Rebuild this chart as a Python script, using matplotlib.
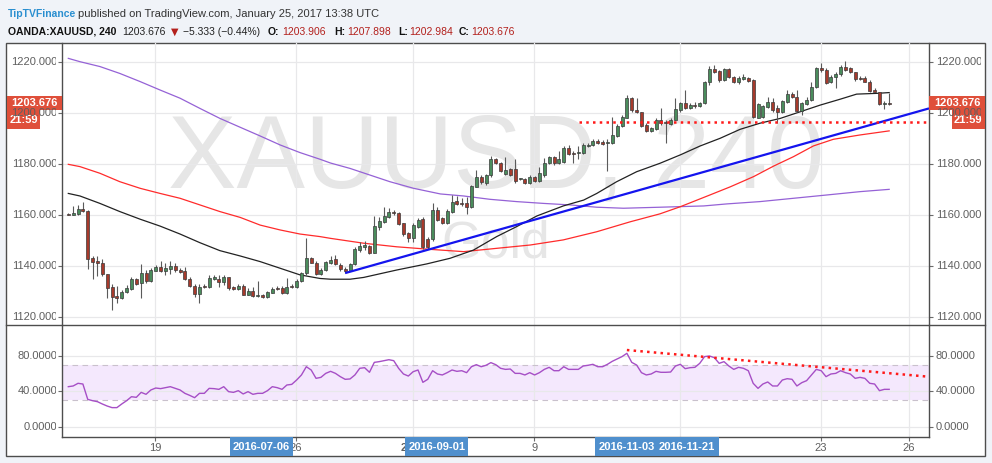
import numpy as np
import matplotlib
matplotlib.use('Agg')
import matplotlib.pyplot as plt
from matplotlib.patches import Rectangle
from matplotlib.lines import Line2D
from matplotlib.transforms import blended_transform_factory, Bbox, TransformedBbox

# ---------------- data (4h bars, XAUUSD) ----------------
opens = [1160.3, 1160.1, 1160.4, 1162.3, 1161.6, 1143.0, 1142.0, 1141.0, 1136.8, 1131.6,
         1128.2, 1127.6, 1129.7, 1131.1, 1134.8, 1133.2, 1137.4, 1134.2, 1138.2, 1139.5,
         1138.2, 1138.7, 1140.0, 1138.4, 1138.1, 1134.7, 1132.1, 1129.0, 1132.2, 1131.9,
         1134.8, 1135.0, 1133.8, 1135.5, 1131.8, 1130.8, 1132.1, 1128.8, 1130.3, 1128.2,
         1128.5, 1128.0, 1129.5, 1131.4, 1131.4, 1129.5, 1132.2, 1131.6, 1134.2, 1137.1,
         1143.1, 1141.3, 1136.8, 1138.4, 1141.3, 1142.6, 1140.5, 1138.9, 1138.2, 1140.8,
         1146.2, 1147.3, 1147.8, 1145.2, 1155.4, 1157.3, 1159.3, 1161.3, 1160.9, 1156.7,
         1152.8, 1150.8, 1155.4, 1158.5, 1150.4, 1150.5, 1161.9, 1158.6, 1157.0, 1161.3,
         1165.6, 1164.8, 1164.8, 1163.0, 1171.0, 1174.7, 1172.3, 1175.6, 1181.8, 1180.2,
         1175.9, 1177.8, 1177.8, 1173.9, 1173.9, 1172.4, 1175.0, 1173.4, 1175.6, 1180.4,
         1182.5, 1180.4, 1180.8, 1186.1, 1184.1, 1184.1, 1184.1, 1187.0, 1187.4, 1189.1,
         1188.7, 1188.0, 1188.3, 1191.0, 1194.9, 1198.1, 1205.6, 1201.1, 1200.2, 1195.2,
         1192.9, 1193.6, 1197.0, 1196.5, 1195.7, 1197.0, 1201.1, 1203.9, 1202.0, 1203.0,
         1202.8, 1203.7, 1211.9, 1217.1, 1216.3, 1212.8, 1217.1, 1214.1, 1211.9, 1213.3,
         1213.5, 1212.8, 1198.1, 1198.3, 1202.4, 1204.1, 1201.7, 1200.4, 1204.3, 1207.2,
         1206.3, 1200.7, 1203.3, 1205.0, 1210.2, 1217.7, 1216.7, 1211.9, 1214.1, 1215.0,
         1218.0, 1217.4, 1215.8, 1213.7, 1213.5, 1212.2, 1208.9, 1208.0, 1203.3, 1203.906]
highs = [1160.8, 1163.6, 1163.9, 1164.9, 1162.0, 1144.0, 1144.0, 1142.6, 1137.0, 1133.0,
         1132.2, 1130.6, 1132.5, 1135.5, 1135.4, 1140.8, 1138.4, 1139.1, 1140.3, 1141.8,
         1141.0, 1142.1, 1141.0, 1139.1, 1139.5, 1135.5, 1132.8, 1133.0, 1133.0, 1136.5,
         1136.5, 1136.5, 1136.5, 1135.8, 1132.2, 1132.8, 1133.0, 1131.3, 1131.9, 1134.1,
         1129.0, 1130.2, 1131.8, 1132.0, 1132.0, 1135.4, 1132.8, 1134.7, 1137.8, 1150.8,
         1143.6, 1142.0, 1139.1, 1142.1, 1143.9, 1144.3, 1141.0, 1139.5, 1141.3, 1147.3,
         1149.5, 1149.8, 1148.2, 1159.6, 1159.0, 1163.0, 1162.6, 1161.9, 1161.3, 1157.0,
         1153.4, 1156.7, 1158.6, 1159.0, 1151.4, 1164.5, 1163.2, 1159.0, 1162.2, 1167.8,
         1167.4, 1166.5, 1167.1, 1171.7, 1177.6, 1175.5, 1176.2, 1183.2, 1182.4, 1180.6,
         1182.5, 1178.2, 1182.0, 1174.6, 1174.3, 1175.5, 1175.4, 1178.6, 1182.1, 1183.2,
         1183.0, 1185.2, 1186.8, 1187.4, 1185.2, 1187.0, 1188.0, 1188.0, 1189.8, 1189.6,
         1189.2, 1189.6, 1198.5, 1195.5, 1199.2, 1206.9, 1206.3, 1205.9, 1200.4, 1195.9,
         1194.6, 1197.8, 1201.7, 1197.2, 1197.8, 1205.6, 1204.3, 1208.9, 1203.7, 1204.3,
         1204.3, 1212.4, 1218.4, 1218.7, 1216.7, 1217.4, 1217.7, 1214.5, 1214.5, 1215.0,
         1214.0, 1213.3, 1203.7, 1203.2, 1206.3, 1205.6, 1203.0, 1205.0, 1208.9, 1208.0,
         1208.9, 1204.3, 1206.3, 1211.9, 1218.0, 1219.4, 1217.4, 1214.8, 1215.8, 1218.7,
         1220.3, 1218.0, 1216.1, 1214.5, 1214.5, 1212.8, 1209.6, 1208.3, 1204.6, 1207.898]
lows = [1159.8, 1159.8, 1159.8, 1161.0, 1138.7, 1134.8, 1136.0, 1136.0, 1127.3, 1122.8,
        1125.4, 1126.9, 1129.3, 1130.6, 1132.5, 1127.3, 1133.2, 1133.8, 1137.9, 1137.8,
        1136.6, 1136.9, 1137.6, 1137.1, 1134.5, 1131.6, 1127.7, 1125.6, 1131.2, 1131.5,
        1134.5, 1131.9, 1132.5, 1130.6, 1130.6, 1130.6, 1128.5, 1128.5, 1128.0, 1127.7,
        1127.6, 1127.6, 1129.3, 1130.5, 1129.2, 1129.2, 1131.5, 1131.3, 1133.8, 1136.5,
        1141.0, 1136.3, 1136.3, 1138.0, 1140.8, 1140.4, 1138.1, 1137.1, 1137.9, 1140.3,
        1145.6, 1146.2, 1144.7, 1144.9, 1154.1, 1156.9, 1158.6, 1160.0, 1156.0, 1151.7,
        1149.5, 1149.5, 1154.7, 1146.7, 1146.7, 1149.9, 1157.7, 1156.4, 1156.4, 1160.9,
        1163.9, 1163.5, 1160.3, 1162.6, 1170.8, 1172.0, 1171.8, 1175.0, 1179.8, 1176.8,
        1175.5, 1175.2, 1172.4, 1173.5, 1171.9, 1172.0, 1173.0, 1172.9, 1175.0, 1180.0,
        1179.7, 1179.9, 1180.3, 1183.4, 1180.2, 1181.8, 1183.8, 1186.6, 1187.0, 1187.9,
        1187.3, 1177.3, 1187.8, 1190.6, 1194.4, 1197.8, 1200.4, 1199.8, 1194.5, 1192.3,
        1192.3, 1193.2, 1195.2, 1188.0, 1195.2, 1197.0, 1200.4, 1201.5, 1201.5, 1202.0,
        1202.4, 1203.3, 1210.9, 1215.4, 1212.2, 1212.4, 1213.5, 1211.5, 1211.1, 1212.9,
        1212.0, 1197.8, 1197.8, 1197.9, 1201.7, 1200.4, 1195.9, 1199.8, 1203.7, 1205.6,
        1200.4, 1199.1, 1203.0, 1204.6, 1209.6, 1216.1, 1211.1, 1211.5, 1209.6, 1214.5,
        1216.4, 1215.4, 1212.4, 1212.8, 1211.9, 1208.3, 1208.0, 1203.0, 1201.5, 1202.984]
closes = [1160.0, 1160.6, 1162.3, 1161.4, 1142.6, 1141.7, 1141.0, 1136.7, 1131.5, 1127.7,
          1127.5, 1129.8, 1131.4, 1134.8, 1133.0, 1137.4, 1134.2, 1138.4, 1139.5, 1138.2,
          1139.2, 1140.0, 1138.4, 1137.8, 1134.7, 1132.1, 1129.0, 1131.9, 1131.9, 1135.2,
          1135.5, 1133.7, 1135.8, 1131.2, 1131.1, 1132.1, 1128.8, 1130.3, 1128.2, 1128.6,
          1128.0, 1129.8, 1131.1, 1130.9, 1129.5, 1131.9, 1131.9, 1134.2, 1137.1, 1143.0,
          1141.3, 1136.8, 1138.4, 1141.4, 1142.3, 1140.8, 1138.7, 1138.2, 1140.8, 1146.6,
          1147.8, 1148.2, 1145.2, 1155.6, 1157.7, 1159.6, 1161.1, 1160.6, 1156.4, 1152.5,
          1150.8, 1156.0, 1158.0, 1147.5, 1147.5, 1161.9, 1158.0, 1157.0, 1161.6, 1165.2,
          1164.3, 1164.3, 1163.0, 1171.3, 1175.0, 1173.0, 1175.6, 1181.8, 1180.2, 1177.3,
          1177.6, 1175.6, 1173.4, 1174.2, 1172.4, 1175.0, 1173.4, 1176.3, 1180.4, 1182.5,
          1180.2, 1181.8, 1186.1, 1183.9, 1183.8, 1184.4, 1187.4, 1187.4, 1189.1, 1188.3,
          1187.8, 1188.7, 1191.3, 1194.9, 1198.5, 1205.6, 1201.1, 1200.2, 1194.9, 1192.9,
          1194.2, 1197.2, 1196.0, 1195.9, 1197.0, 1201.5, 1203.8, 1201.7, 1203.0, 1202.8,
          1203.8, 1211.9, 1217.1, 1216.1, 1212.8, 1217.1, 1214.1, 1211.9, 1213.7, 1213.9,
          1212.4, 1198.5, 1203.3, 1202.6, 1204.1, 1201.1, 1200.4, 1204.6, 1207.2, 1206.3,
          1200.7, 1203.7, 1205.0, 1210.2, 1217.7, 1216.7, 1211.5, 1214.1, 1215.0, 1218.0,
          1216.7, 1215.8, 1213.2, 1213.2, 1212.2, 1208.5, 1208.3, 1203.3, 1203.7, 1203.676]

rsi = [45.1, 45.9, 48.9, 48.1, 30.8, 29.3, 28.2, 25.6, 23.3, 21.5,
       21.5, 25.6, 29.3, 33.8, 33.1, 38.7, 36.5, 41.4, 43.6, 42.9,
       44.0, 45.1, 43.2, 41.4, 37.6, 35.3, 32.7, 37.6, 37.6, 43.2,
       42.9, 42.1, 45.1, 39.5, 38.7, 40.6, 36.9, 39.5, 36.5, 37.6,
       37.6, 40.6, 45.1, 44.0, 42.1, 47.0, 47.7, 52.6, 58.3, 67.6,
       63.9, 54.5, 55.6, 60.1, 62.4, 60.1, 56.4, 53.4, 53.8, 58.3,
       65.8, 66.5, 61.3, 72.5, 73.3, 74.4, 75.5, 74.4, 65.8, 59.4,
       57.1, 62.0, 63.9, 50.0, 53.4, 63.1, 59.4, 58.3, 60.9, 63.9,
       62.4, 63.1, 60.9, 67.6, 69.9, 67.6, 69.2, 72.2, 69.9, 65.8,
       64.6, 65.0, 60.1, 60.1, 58.3, 60.9, 58.3, 60.9, 64.6, 66.9,
       63.1, 63.1, 67.6, 64.6, 64.6, 64.6, 68.4, 69.2, 70.3, 67.6,
       67.6, 70.3, 73.7, 76.3, 79.0, 82.7, 72.5, 69.5, 60.9, 58.3,
       59.4, 62.4, 61.3, 61.3, 61.6, 68.4, 70.3, 65.4, 66.5, 66.9,
       71.4, 79.0, 79.7, 77.8, 71.4, 73.3, 68.4, 64.6, 66.9, 65.8,
       63.1, 48.9, 43.2, 48.1, 50.4, 45.9, 45.9, 52.6, 54.1, 53.4,
       45.9, 49.6, 51.9, 58.3, 64.6, 63.1, 56.4, 59.4, 60.1, 63.1,
       60.9, 59.4, 54.5, 55.6, 54.5, 48.9, 48.1, 40.6, 42.1, 42.1]

# moving averages, sampled vertices (bar index, value)
ma_black_x = [0, 2.4, 6.5, 10.6, 14.8, 18.9, 23, 27.1, 31.2, 35.4, 39.5, 43.6, 47.7, 51.8, 54, 58,
              60.8, 67.6, 73.8, 78.6, 83.4, 88.2, 92.3, 96.5, 101.9, 106.1, 108.8, 112.9, 117,
              121.8, 126, 130.1, 134.2, 138.3, 142.4, 146.6, 150.7, 154.8, 158.9, 162.3, 166.5, 169]
ma_black_y = [1168.4, 1167.4, 1164.5, 1161.3, 1158.3, 1155.6, 1152.5, 1149.1, 1146.0, 1143.9, 1141.7,
              1139.1, 1136.5, 1135.1, 1134.8, 1134.8, 1135.5, 1138.4, 1140.8, 1143.0, 1146.2, 1151.5,
              1155.4, 1159.6, 1163.5, 1165.8, 1168.4, 1173.0, 1176.9, 1180.2, 1183.5, 1187.0, 1190.0,
              1193.5, 1195.9, 1197.8, 1200.4, 1203.0, 1205.3, 1207.3, 1207.6, 1207.9]
ma_red_x = [0, 2.4, 6.5, 10.6, 14.8, 18.9, 23, 27.1, 31.2, 35.4, 39.5, 43.6, 47.7, 51.8, 54, 60.8,
            67.6, 74.5, 81.4, 88.2, 95.1, 101.9, 108.8, 115.7, 121.8, 126, 132.1, 136.3, 141.1,
            145.2, 149.3, 153.4, 157.5, 163, 169]
ma_red_y = [1179.8, 1178.9, 1176.3, 1173.0, 1170.4, 1168.4, 1166.5, 1163.9, 1161.3, 1159.0, 1156.0,
            1154.1, 1152.5, 1151.5, 1150.8, 1148.9, 1147.5, 1146.5, 1145.6, 1146.9, 1148.2, 1150.2,
            1153.4, 1157.3, 1160.4, 1163.2, 1167.8, 1171.0, 1175.0, 1179.1, 1182.8, 1187.0, 1189.6,
            1191.3, 1192.9]
ma_purple_x = [0, 2.4, 6.5, 10.6, 14.8, 18.9, 23, 27.1, 31.2, 35.4, 39.5, 43.6, 47.7, 51.8, 54, 58,
               62.1, 66.2, 71.1, 76.6, 81.4, 86.8, 92.3, 97.8, 103.3, 108.8, 114.3, 121.8, 130.8,
               135.6, 142.4, 149.3, 156.2, 163, 169]
ma_purple_y = [1221.3, 1220.0, 1218.1, 1215.4, 1212.2, 1208.9, 1205.7, 1201.7, 1197.8, 1194.3, 1190.9,
               1187.4, 1184.4, 1181.8, 1180.3, 1178.2, 1175.6, 1173.0, 1170.4, 1168.2, 1167.4, 1166.1,
               1165.2, 1164.5, 1163.9, 1163.0, 1162.6, 1163.0, 1163.5, 1164.3, 1165.2, 1166.5, 1167.8,
               1169.1, 1170.0]

# drawings
trend_x = [57, 177.2]
trend_y = [1137.2, 1201.7]
support_x = [105.1, 177.2]
support_y = [1196.3, 1196.3]
rsi_trend_x = [115, 177.2]
rsi_trend_y = [86.4, 56.3]

price_ticks = [1120, 1140, 1160, 1180, 1200, 1220]
rsi_ticks = [0, 40, 80]
date_pos = [17.85, 46.9, 71.0, 95.9, 125.9, 155.0, 173.1]
date_labels = ['19', '26', '2017', '9', '16', '23', '26']
marker_pos = [39.8, 75.9, 115.0, 127.4]
marker_labels = ['2016-07-06', '2016-09-01', '2016-11-03', '2016-11-21']

last_price = closes[-1]

# ---------------- figure ----------------
W, H = 992, 463
def fx(px):
    return px / W
def fy(py):
    return 1 - py / H

lab_font = 'Liberation Sans'

fig = plt.figure(figsize=(W / 100, H / 100), dpi=100, facecolor='#f0f3f8')

frame = Rectangle((fx(6), fy(456)), fx(985) - fx(6), fy(43) - fy(456), transform=fig.transFigure,
                  facecolor='white', edgecolor='#4d4d4d', lw=1.0, zorder=-1)
fig.patches.append(frame)

ax = fig.add_axes([fx(62), fy(325), fx(929) - fx(62), fy(43) - fy(325)])
ax2 = fig.add_axes([fx(62), fy(437), fx(929) - fx(62), fy(325) - fy(437)], sharex=ax)
xmin, xmax = -1.3, 177.2
ax.set_xlim(xmin, xmax)
ax.set_ylim(1116.87, 1227.32)
ax2.set_ylim(-11.6, 114.6)

grid_c = '#e8e8ea'
for a in (ax, ax2):
    a.set_facecolor('none')
    a.set_xticks(date_pos)
    for s in a.spines.values():
        s.set_color('#4d4d4d')
        s.set_linewidth(1.0)
    a.spines['top'].set_visible(False)
    a.grid(True, color=grid_c, lw=0.9)
    a.set_axisbelow(True)
    a.tick_params(axis='both', labelleft=False, labelright=False, labelbottom=False,
                  left=True, right=True, bottom=True, length=3, width=0.8, color='#6b6b6b')
ax.spines['bottom'].set_visible(False)
ax.tick_params(axis='x', bottom=False)
ax.set_yticks(price_ticks)
ax2.set_yticks(rsi_ticks)

# separator between panes across the whole frame
fig.add_artist(Line2D([fx(6), fx(985)], [fy(325), fy(325)], color='#4d4d4d', lw=1.0))

# watermark
ax.text(0.5006, 0.486, 'XAUUSD, 240', transform=ax.transAxes, ha='center', va='baseline',
        fontsize=74, family=lab_font, color='#e6e6e6', zorder=0.5)
ax.text(0.5006, 0.241, 'Gold', transform=ax.transAxes, ha='center', va='baseline',
        fontsize=37, family=lab_font, color='#e6e6e6', zorder=0.5)

# moving averages
ax.plot(ma_purple_x, ma_purple_y, color='#9562d6', lw=0.9, zorder=2)
ax.plot(ma_red_x, ma_red_y, color='#ff2b2b', lw=0.9, zorder=2)
ax.plot(ma_black_x, ma_black_y, color='#222222', lw=0.9, zorder=2)

# candles
bars = np.arange(len(closes))
o = np.array(opens)
c = np.array(closes)
up = c >= o
body = c - o
body = np.where(np.abs(body) < 0.4, np.where(up, 0.4, -0.4), body)
ax.vlines(bars, lows, highs, color='#5a5a5a', lw=0.8, zorder=3)
ax.bar(bars, body, bottom=o, width=0.62, color=np.where(up, '#4a8c5c', '#a63a2c'),
       edgecolor='#3a3a3a', linewidth=0.5, zorder=4)

# drawings
ax.plot(trend_x, trend_y, color='#1414ee', lw=1.6, zorder=5, solid_capstyle='butt')
ax.plot(support_x, support_y, color='#ff1a1a', lw=1.8, ls=(0, (1, 1.7)), zorder=5)

# RSI pane
ax2.axhspan(30, 70, color='#f4e8fd', zorder=0.5, lw=0)
ax2.axhline(70, color='#c9c1cc', lw=0.8, ls=(0, (5, 4)), zorder=1)
ax2.axhline(30, color='#c9c1cc', lw=0.8, ls=(0, (5, 4)), zorder=1)
ax2.plot(bars, rsi, color='#a64fc6', lw=1.0, zorder=3)
ax2.plot(rsi_trend_x, rsi_trend_y, color='#ff1a1a', lw=1.8, ls=(0, (1, 1.7)), zorder=4)

# axis labels (clipped like the original)
lab_c = '#5f5f5f'
left_clip = TransformedBbox(Bbox.from_extents(fx(6), 0, fx(55.5), 1), fig.transFigure)
right_clip = TransformedBbox(Bbox.from_extents(fx(929), 0, fx(981), 1), fig.transFigure)

def axis_label(a, y, s, side):
    tr = blended_transform_factory(a.transAxes, a.transData)
    if side == 'left':
        t = fig.text((57.5 - 62) / 867, y, s, transform=tr, ha='right', va='center',
                     fontsize=8, family=lab_font, color=lab_c)
        t.set_clip_box(left_clip)
    else:
        t = fig.text(1 + 7 / 867, y, s, transform=tr, ha='left', va='center',
                     fontsize=8, family=lab_font, color=lab_c)
        t.set_clip_box(right_clip)
    t.set_clip_on(True)

for v in price_ticks:
    axis_label(ax, v, '{0:.3f}'.format(v), 'left')
    axis_label(ax, v, '{0:.3f}'.format(v), 'right')
for v in rsi_ticks:
    axis_label(ax2, v, '{0:.4f}'.format(v), 'left')
    axis_label(ax2, v, '{0:.4f}'.format(v), 'right')

# last price boxes
box_c = '#df4f3a'
trp = blended_transform_factory(ax.transAxes, ax.transData)
hb = 14 / 2.553 / 2
tb = 18.3 / 2.553
for x0, x1, tx0, tx1 in [(-55 / 867, 0, -55 / 867, -22 / 867),
                         (1.0, 1 + 56 / 867, 1 + 22.7 / 867, 1 + 56 / 867)]:
    ax.add_patch(Rectangle((x0, last_price - hb), x1 - x0, 2 * hb, transform=trp,
                           facecolor=box_c, lw=0, clip_on=False, zorder=10))
    ax.add_patch(Rectangle((tx0, last_price - hb - tb), tx1 - tx0, tb, transform=trp,
                           facecolor=box_c, lw=0, clip_on=False, zorder=10))
    ax.text((x0 + x1) / 2, last_price, '{0:.3f}'.format(last_price), transform=trp,
            ha='center', va='center', fontsize=8, family=lab_font, color='white',
            fontweight='bold', zorder=11, clip_on=False)
    ax.text((tx0 + tx1) / 2, last_price - hb - tb / 2, '21:59', transform=trp,
            ha='center', va='center', fontsize=8, family=lab_font, color='white',
            fontweight='bold', zorder=11, clip_on=False)

# date labels under RSI pane
trx = blended_transform_factory(ax2.transData, ax2.transAxes)
for p, s in zip(date_pos, date_labels):
    ax2.text(p, -0.098, s, transform=trx, ha='center', va='center', fontsize=8, family=lab_font,
             color=lab_c, fontweight='bold' if s == '2017' else 'normal', clip_on=False, zorder=6)

bw = 63 / 4.856
for p, s in zip(marker_pos, marker_labels):
    ax2.add_patch(Rectangle((p - bw / 2, -0.1696), bw, 0.1696, transform=trx, facecolor='#4f8fcd',
                            lw=0, clip_on=False, zorder=8))
    ax2.text(p, -0.088, s, transform=trx, ha='center', va='center', fontsize=8, family=lab_font,
             color='white', fontweight='bold', clip_on=False, zorder=9)

# header
fig.text(fx(8), fy(17), 'TipTVFinance', fontsize=7.5, family=lab_font, color='#2a8fd0',
         fontweight='bold', va='baseline')
fig.text(fx(78), fy(17), 'published on TradingView.com, January 25, 2017 13:38 UTC', fontsize=8,
         family=lab_font, color='#333333', va='baseline')
red_h = '#b3201c'
pieces = [(8, 'OANDA:XAUUSD, 240', '#111111', 'bold'),
          (122, '1203.676', '#222222', 'normal'),
          (171, '\u25BC', red_h, 'normal'),
          (183, '\u22125.333 (\u22120.44%)', '#222222', 'normal'),
          (268, 'O:', '#111111', 'bold'),
          (282, '1203.906', red_h, 'normal'),
          (334, 'H:', '#111111', 'bold'),
          (347, '1207.898', red_h, 'normal'),
          (398, 'L:', '#111111', 'bold'),
          (409, '1202.984', red_h, 'normal'),
          (459, 'C:', '#111111', 'bold'),
          (471, '1203.676', red_h, 'normal')]
for px, s, col, wt in pieces:
    if s == '\u25BC':
        fig.text(fx(px), fy(35), s, fontsize=7, family='DejaVu Sans', color=col, va='baseline')
    else:
        fig.text(fx(px), fy(35), s, fontsize=7.5, family=lab_font, color=col,
                 fontweight=wt, va='baseline')

fig.savefig('out.png', dpi=100, facecolor=fig.get_facecolor())
